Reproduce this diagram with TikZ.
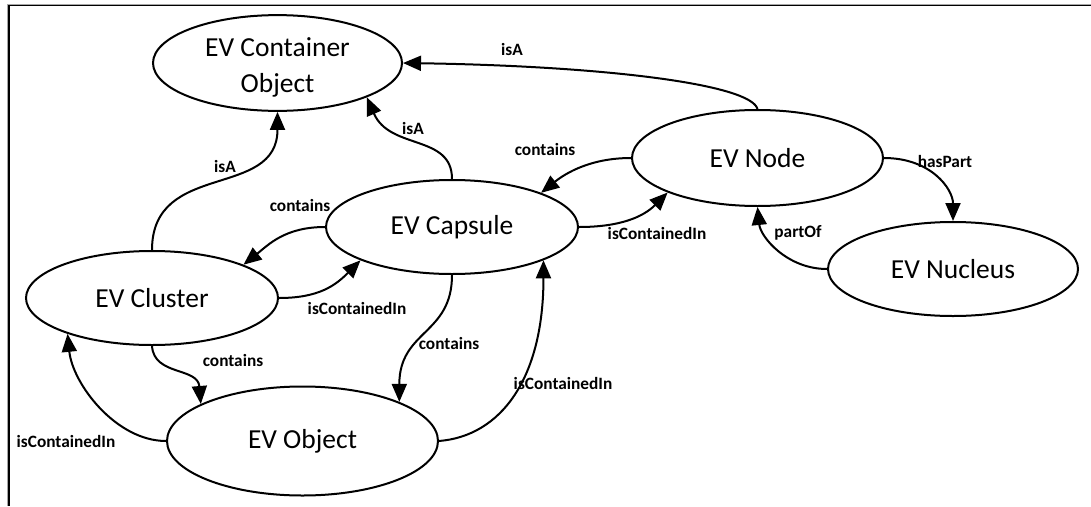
\documentclass[tikz,border=0pt]{standalone}
\usepackage{fontspec}
\setmainfont{Carlito}
\usetikzlibrary{shapes.geometric,arrows.meta}
\begin{document}
\begin{tikzpicture}[x=1pt,y=-1pt,
  ev/.style={ellipse,draw,line width=2pt,inner sep=0pt,align=center,
    font=\fontsize{27.5}{36}\selectfont},
  lbl/.style={font=\bfseries\fontsize{17.3}{20}\selectfont,inner sep=0pt},
  rel/.style={line width=2pt,-{Triangle[length=18pt,width=15pt]}},
  frame/.style={line width=1.3pt},
  shadowline/.style={line width=0.8pt,black!35}]
\useasboundingbox (0,0) rectangle (1091,506);
% frame
\draw[shadowline] (7.6,506) -- (7.6,4.3) -- (1091,4.3);
\draw[frame] (9,506) -- (9,5.7) -- (1091,5.7);
% nodes
\node[ev,minimum width=249pt,minimum height=93pt] (cont) at (277.5,63) {\rule{0pt}{27pt}EV Container\\Object};
\node[ev,minimum width=251pt,minimum height=96pt] (evnode) at (757.5,158) {EV Node};
\node[ev,minimum width=252pt,minimum height=94pt] (caps) at (452,227) {EV Capsule};
\node[ev,minimum width=252pt,minimum height=94pt] (clus) at (152,298) {EV Cluster};
\node[ev,minimum width=271pt,minimum height=109pt] (obj) at (302.5,441) {EV Object};
\node[ev,minimum width=250pt,minimum height=94pt] (nuc) at (953,269) {EV Nucleus};
% connectors
\draw[rel] (evnode.north) .. controls +(-7,-25) and +(200,3) .. (cont.east);
\draw[rel] (caps.north) .. controls +(0,-45) and +(23,53) .. (cont.-21);
\draw[rel] (clus.north) .. controls +(0,-90) and +(0,88) .. (cont.south);
\draw[rel] (evnode.west) .. controls +(-40,0) and +(25,-20) .. (caps.21);
\draw[rel] (caps.east) .. controls +(40,0) and +(-25,25) .. (evnode.201);
\draw[rel] (caps.west) .. controls +(-40,0) and +(25,-20) .. (clus.20);
\draw[rel] (clus.east) .. controls +(40,0) and +(-25,25) .. (caps.200);
\draw[rel] (clus.south) .. controls +(2,30) and +(-3,-37) .. (obj.160);
\draw[rel] (obj.west) .. controls +(-50,0) and +(5,50) .. (clus.203);
\draw[rel] (caps.south) .. controls +(0,60) and +(0,-72) .. (obj.22);
\draw[rel] (obj.east) .. controls +(62,-5) and +(0,118) .. (caps.-20);
\draw[rel] (evnode.east) .. controls +(47,0) and +(0,-32) .. (nuc.north);
\draw[rel] (nuc.west) .. controls +(-40,0) and +(3,30) .. (evnode.south);
% labels
\node[lbl] (l1) at (512,49) {isA};
\node[lbl] (l2) at (413,128) {isA};
\node[lbl] (l3) at (225,166) {isA};
\node[lbl] (l4) at (545,149) {contains};
\node[lbl] (l5) at (657,233) {isContainedIn};
\node[lbl] (l6) at (300,205) {contains};
\node[lbl] (l7) at (357,308) {isContainedIn};
\node[lbl] (l8) at (233,360) {contains};
\node[lbl] (l9) at (66,441) {isContainedIn};
\node[lbl] (l10) at (449,343) {contains};
\node[lbl] (l11) at (563,383) {isContainedIn};
\node[lbl] (l12) at (945,161) {hasPart};
\node[lbl] (l13) at (798,233) {partOf};
\end{tikzpicture}
\end{document}
